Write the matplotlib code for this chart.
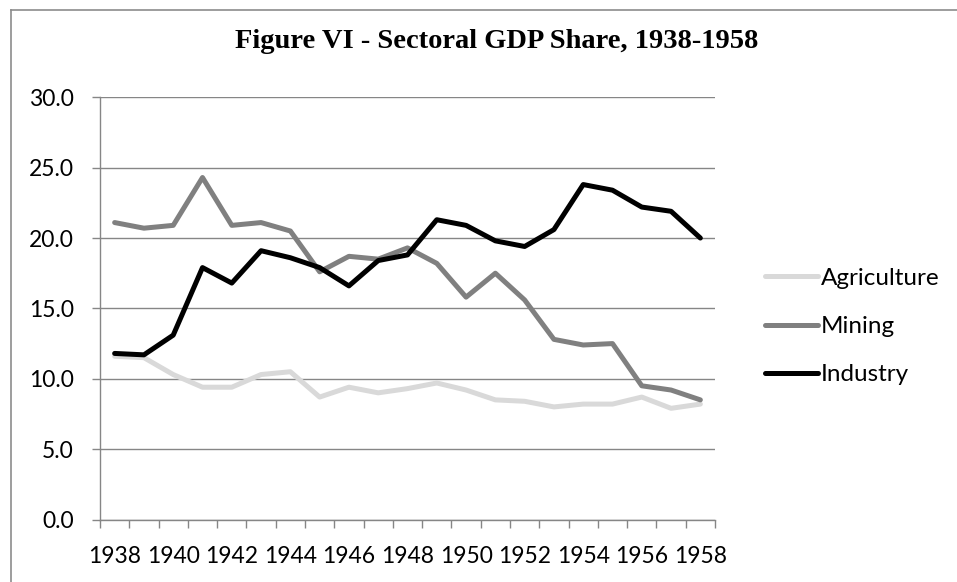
import numpy as np
import matplotlib
matplotlib.use("Agg")
from matplotlib import pyplot as plt
from matplotlib.lines import Line2D

# --------- DATA ---------
years = list(range(1938, 1959))
agriculture = [11.6, 11.5, 10.3, 9.4, 9.4, 10.3, 10.5, 8.7, 9.4, 9.0, 9.3,
               9.7, 9.2, 8.5, 8.4, 8.0, 8.2, 8.2, 8.7, 7.9, 8.2]
mining = [21.1, 20.7, 20.9, 24.3, 20.9, 21.1, 20.5, 17.6, 18.7, 18.5, 19.3,
          18.2, 15.8, 17.5, 15.6, 12.8, 12.4, 12.5, 9.5, 9.2, 8.5]
industry = [11.8, 11.7, 13.1, 17.9, 16.8, 19.1, 18.6, 17.9, 16.6, 18.4, 18.8,
            21.3, 20.9, 19.8, 19.4, 20.6, 23.8, 23.4, 22.2, 21.9, 20.0]
y_ticks = [0, 5, 10, 15, 20, 25, 30]

# --------- PLOT ---------
W, H, DPI = 957, 582, 100
fig = plt.figure(figsize=(W / DPI, H / DPI), dpi=DPI)
ax = fig.add_axes([100 / W, 1 - 519.5 / H, 615 / W, (519.5 - 97.3) / H])

grid_col = "#868686"
tick_font = "Lato"

ax.plot(years, agriculture, color="#d9d9d9", lw=3.6, label="Agriculture", solid_capstyle="round")
ax.plot(years, mining, color="#808080", lw=3.6, label="Mining", solid_capstyle="round")
ax.plot(years, industry, color="#000000", lw=3.6, label="Industry", solid_capstyle="round")

ax.set_xlim(1937.5, 1958.5)
ax.set_ylim(0, 30)
ax.set_yticks(y_ticks)
ax.set_yticklabels(["{0:.1f}".format(v) for v in y_ticks], fontfamily=tick_font, fontsize=16.5)
ax.set_xticks(years[::2])
ax.set_xticklabels([str(y) for y in years[::2]], fontfamily=tick_font, fontsize=16.5)
ax.set_xticks(np.arange(1937.5, 1959, 1), minor=True)

ax.tick_params(axis="y", length=6, width=1, color=grid_col, pad=13)
ax.tick_params(axis="x", which="major", length=0, pad=19)
ax.tick_params(axis="x", which="minor", length=6, width=1, color=grid_col)

ax.yaxis.grid(True, color=grid_col, lw=1)
ax.set_axisbelow(True)
for s in ("top", "right"):
    ax.spines[s].set_visible(False)
for s in ("left", "bottom"):
    ax.spines[s].set_color(grid_col)
    ax.spines[s].set_linewidth(1)

# Chart title
fig.text(497 / W, 1 - 42 / H, "Figure VI - Sectoral GDP Share, 1938-1958",
         ha="center", va="center", fontfamily="Liberation Serif",
         fontweight="bold", fontsize=20.5)

# Legend to the right
leg = ax.legend(loc="center left", bbox_to_anchor=(765 / W, 1 - 326.7 / H),
                bbox_transform=fig.transFigure, frameon=False, borderpad=0,
                borderaxespad=0, handlelength=2.2, handletextpad=0.1,
                labelspacing=1.12, prop={"family": tick_font, "size": 17.5})

# Outer chart border (cut off at right and bottom)
fig.add_artist(Line2D([11 / W, 1.0], [1 - 10 / H, 1 - 10 / H], color="#8c8c8c", lw=1.2))
fig.add_artist(Line2D([11 / W, 11 / W], [0.0, 1 - 10 / H], color="#8c8c8c", lw=1.2))

fig.savefig("out.png", dpi=DPI)
